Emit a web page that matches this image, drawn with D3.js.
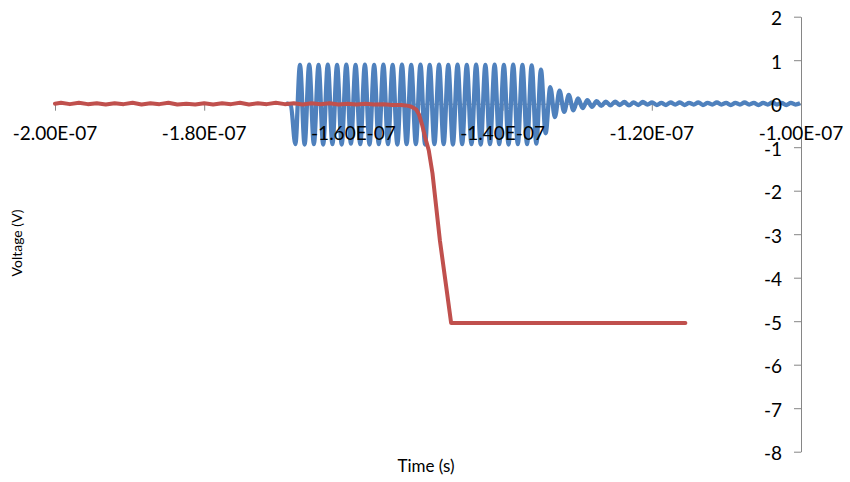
<!DOCTYPE html>
<html>
<head>
<meta charset="utf-8">
<script src="https://cdn.jsdelivr.net/npm/d3@7"></script>
<style>
  html, body { margin: 0; padding: 0; background: #fff; }
  svg { display: block; }
  text { font-family: Lato, "Open Sans", sans-serif; fill: #000; }
</style>
</head>
<body>
<svg id="chart" width="850" height="482"></svg>
<script>
// Time axis ticks (seconds) and their labels
const xTicks = [-2.0e-7, -1.8e-7, -1.6e-7, -1.4e-7, -1.2e-7, -1.0e-7];
const xTickLabels = ["-2.00E-07", "-1.80E-07", "-1.60E-07", "-1.40E-07", "-1.20E-07", "-1.00E-07"];
// Voltage axis ticks (V) and their labels
const yTicks = [-8, -7, -6, -5, -4, -3, -2, -1, 0, 1, 2];
const yTickLabels = ["-8", "-7", "-6", "-5", "-4", "-3", "-2", "-1", "0", "1", "2"];

// Blue trace: RF burst, time in ns
const blueTime = [
  -169.00, -168.40, -167.78, -167.16, -166.54, -165.92, -165.30, -164.67, -164.05, -163.43,
  -162.81, -162.19, -161.57, -160.95, -160.33, -159.71, -159.08, -158.46, -157.84, -157.22,
  -156.60, -155.98, -155.36, -154.74, -154.11, -153.49, -152.87, -152.25, -151.63, -151.01,
  -150.39, -149.77, -149.14, -148.52, -147.90, -147.28, -146.66, -146.04, -145.42, -144.80,
  -144.17, -143.55, -142.93, -142.31, -141.69, -141.07, -140.45, -139.83, -139.20, -138.58,
  -137.96, -137.34, -136.72, -136.10, -135.48, -134.86, -134.23, -133.61, -132.99, -132.37,
  -131.75, -131.13, -130.51, -129.89, -129.26, -128.64, -128.02,
  -127.40, -126.78, -126.16, -125.54, -124.92, -124.30, -123.68, -123.06, -122.44, -121.82,
  -121.20, -120.58, -119.96, -119.34, -118.72, -118.10, -117.48, -116.86, -116.24, -115.62,
  -115.00, -114.38, -113.76, -113.14, -112.52, -111.90, -111.28, -110.66, -110.04, -109.42,
  -108.80, -108.18, -107.56, -106.94, -106.32, -105.70, -105.08, -104.46, -103.84, -103.22,
  -102.60, -101.98, -101.36, -100.74, -100.12
];
// Blue trace: voltage (V)
const blueVolt = [
   0.01, -0.02, -0.93,  0.89, -0.94,  0.90, -0.93,  0.89, -0.94,  0.90,
  -0.93,  0.89, -0.94,  0.90, -0.92,  0.89, -0.93,  0.90, -0.94,  0.89,
  -0.93,  0.90, -0.93,  0.89, -0.94,  0.90, -0.93,  0.89, -0.93,  0.90,
  -0.94,  0.89, -0.93,  0.90, -0.93,  0.89, -0.94,  0.90, -0.93,  0.89,
  -0.93,  0.90, -0.94,  0.89, -0.93,  0.90, -0.93,  0.89, -0.94,  0.90,
  -0.93,  0.89, -0.93,  0.88, -0.92,  0.78, -0.68,  0.38, -0.31,  0.30,
  -0.19,  0.20, -0.15,  0.12, -0.10,  0.08, -0.07,
   0.06, -0.05,  0.05, -0.04,  0.05, -0.03,  0.04, -0.04,  0.03, -0.03,
   0.04, -0.02,  0.03, -0.03,  0.02, -0.03,  0.03, -0.02,  0.03, -0.03,
   0.02, -0.02,  0.03, -0.03,  0.02, -0.02,  0.03, -0.02,  0.02, -0.03,
   0.02, -0.02,  0.03, -0.02,  0.02, -0.03,  0.02, -0.02,  0.03, -0.02,
   0.02, -0.03,  0.02, -0.02,  0.01
];

// Red trace: switching edge, time in ns
const redTime = [
  -200.0, -199.2, -198.0, -196.8, -195.6, -194.4, -193.2, -192.0, -190.8, -189.6,
  -188.4, -187.2, -186.0, -184.8, -183.6, -182.4, -181.2, -180.0, -178.8, -177.6,
  -176.4, -175.2, -174.0, -172.8, -171.6, -170.4, -169.2, -168.0, -166.8, -165.6,
  -164.4, -163.2, -162.0, -160.8, -159.6, -158.4, -157.2, -156.0, -154.8, -153.6,
  -152.6, -152.1, -151.6, -151.2, -150.8, -150.4, -149.9, -149.4, -148.4, -147.5,
  -146.9, -115.5
];
// Red trace: voltage (V)
const redVolt = [
   0.00,  0.02, -0.01,  0.02, -0.01,  0.01, -0.02,  0.01, -0.01,  0.02,
  -0.02,  0.01, -0.01,  0.02, -0.02,  0.00, -0.02,  0.01, -0.02,  0.01,
  -0.01,  0.02, -0.02,  0.01, -0.01,  0.02, -0.01,  0.01, -0.02,  0.01,
  -0.01,  0.01, -0.02,  0.00, -0.02,  0.00, -0.02, -0.01, -0.03, -0.03,
  -0.05, -0.08, -0.13, -0.25, -0.48, -0.76, -1.07, -1.60, -3.15, -4.28,
  -5.04, -5.04
];

const svg = d3.select("#chart");
const x = d3.scaleLinear().domain([-2.0e-7, -1.0e-7]).range([55, 801]);
const y = d3.scaleLinear().domain([-8, 2]).range([451.7, 16.7]);
const axisColor = "#868686";

const blueData = blueTime.map((t, i) => ({ t: t * 1e-9, v: blueVolt[i] }));
const redData = redTime.map((t, i) => ({ t: t * 1e-9, v: redVolt[i] }));

// Horizontal axis through V = 0
const xAxis = d3.axisBottom(x)
  .tickValues(xTicks)
  .tickFormat((d, i) => xTickLabels[i])
  .tickSize(7)
  .tickSizeOuter(0);
const gx = svg.append("g").attr("transform", `translate(0,${y(0)})`).call(xAxis);
gx.select(".domain").attr("stroke", axisColor);
gx.selectAll(".tick line").attr("stroke", axisColor);
gx.selectAll(".tick text").remove();

// Vertical axis at the right end of the time range
const yAxis = d3.axisLeft(y)
  .tickValues(yTicks)
  .tickFormat((d, i) => yTickLabels[i])
  .tickSize(7)
  .tickPadding(12)
  .tickSizeOuter(0);
const gy = svg.append("g").attr("transform", `translate(${x(-1.0e-7)},0)`).call(yAxis);
gy.select(".domain").attr("stroke", axisColor);
gy.selectAll(".tick line").attr("stroke", axisColor);
gy.selectAll(".tick text").remove();

// Traces
const line = d3.line().x(d => x(d.t)).y(d => y(d.v));
svg.append("path")
  .datum(blueData)
  .attr("fill", "none")
  .attr("stroke", "#4F81BD")
  .attr("stroke-width", 4.3)
  .attr("stroke-linejoin", "round")
  .attr("d", line.curve(d3.curveMonotoneX));
svg.append("path")
  .datum(redData)
  .attr("fill", "none")
  .attr("stroke", "#C0504D")
  .attr("stroke-width", 4)
  .attr("stroke-linejoin", "round")
  .attr("stroke-linecap", "round")
  .attr("d", line.curve(d3.curveLinear));

// Tick labels on top of the traces
svg.append("g").selectAll("text")
  .data(xTicks)
  .join("text")
  .attr("x", d => x(d))
  .attr("y", y(0) + 36)
  .attr("text-anchor", "middle")
  .style("font-size", "19px")
  .text((d, i) => xTickLabels[i]);

svg.append("g").selectAll("text")
  .data(yTicks)
  .join("text")
  .attr("x", x(-1.0e-7) - 19)
  .attr("y", d => y(d) + 2)
  .attr("dy", "0.35em")
  .attr("text-anchor", "end")
  .style("font-size", "19px")
  .text((d, i) => yTickLabels[i]);

// Axis titles
svg.append("text")
  .attr("x", 426)
  .attr("y", 472)
  .attr("text-anchor", "middle")
  .style("font-size", "17px")
  .text("Time (s)");
svg.append("text")
  .attr("transform", "translate(22,243) rotate(-90)")
  .attr("text-anchor", "middle")
  .style("font-size", "14px")
  .text("Voltage (V)");
</script>
</body>
</html>
